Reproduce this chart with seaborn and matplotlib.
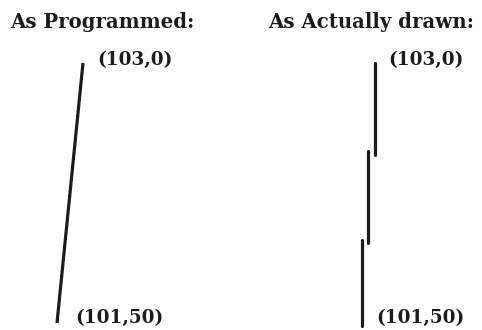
import numpy as np
import pandas as pd
import matplotlib
matplotlib.use("Agg")
import matplotlib.pyplot as plt
import seaborn as sns

sns.set_style("white")
plt.rcParams['font.family'] = ['DejaVu Serif']

# line as programmed: from (101,50) to (103,0)
prog_x = [101, 103]
prog_y = [50, 0]

# line as actually drawn: one vertical run per pixel column
drawn_x = [103, 102, 101]
drawn_y0 = [0, 17.0, 34.0]
drawn_y1 = [17.6, 34.6, 50.5]

titles = ["As Programmed:", "As Actually drawn:"]
end_labels = ["(103,0)", "(101,50)"]

W, H = 482, 330
fig = plt.figure(figsize=(W / 100, H / 100), dpi=100)

def px_axes(x0, x1, y0, y1):
    # pixel box (top-down y) -> figure axes
    return fig.add_axes([x0 / W, 1 - y1 / H, (x1 - x0) / W, (y1 - y0) / H])

ax1 = px_axes(57, 83, 63, 323)
ax2 = px_axes(362, 374.5, 63, 323)

ink = "#1c1c1c"

sns.lineplot(x=prog_x, y=prog_y, estimator=None, sort=False, ax=ax1,
             color=ink, lw=2.3, solid_capstyle="butt")

seg = pd.DataFrame({
    "x": np.repeat(drawn_x, 2),
    "y": np.ravel(np.column_stack([drawn_y0, drawn_y1])),
    "seg": np.repeat(range(len(drawn_x)), 2),
})
sns.lineplot(data=seg, x="x", y="y", units="seg", estimator=None, sort=False,
             ax=ax2, color=ink, lw=2.3, solid_capstyle="round")

for ax in (ax1, ax2):
    ax.set_xlim(101, 103)
    ax.set_ylim(50, 0)
    ax.axis("off")
    for ln in ax.lines:
        ln.set_clip_on(False)

tkw = dict(fontweight="bold", color=ink, fontsize=14.2)
fig.text(10 / W, 1 - 28 / H, titles[0], va="baseline", ha="left", **tkw)
fig.text(268 / W, 1 - 28 / H, titles[1], va="baseline", ha="left", **tkw)

lkw = dict(fontweight="bold", color=ink, fontsize=13.3, va="center", ha="left",
           textcoords="offset points", annotation_clip=False)
ax1.annotate(end_labels[0], xy=(prog_x[1], prog_y[1]), xytext=(10, 2), **lkw)
ax1.annotate(end_labels[1], xy=(prog_x[0], prog_y[0]), xytext=(13, 3.5), **lkw)
ax2.annotate(end_labels[0], xy=(drawn_x[0], drawn_y0[0]), xytext=(10, 2), **lkw)
ax2.annotate(end_labels[1], xy=(drawn_x[-1], drawn_y1[-1]), xytext=(10, 5.5), **lkw)

fig.savefig("out.png", dpi=100)
